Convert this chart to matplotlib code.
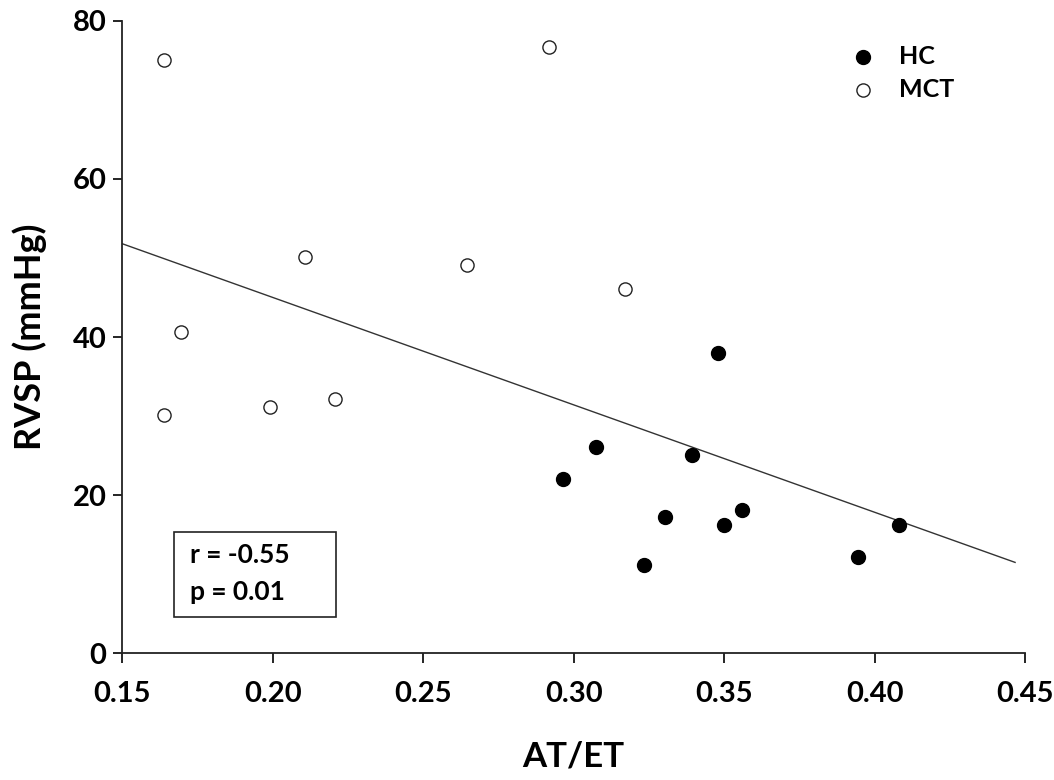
import matplotlib.pyplot as plt
from matplotlib.patches import Rectangle

plt.rcParams['font.family'] = ['Lato', 'DejaVu Sans']
plt.rcParams['font.weight'] = 'bold'

# Data
hc_x = [0.2965, 0.3075, 0.3393, 0.3235, 0.3305, 0.3500, 0.3560, 0.3481, 0.3946, 0.4080]
hc_y = [22.1, 26.1, 25.1, 11.2, 17.2, 16.2, 18.1, 38.0, 12.2, 16.2]
mct_x = [0.1640, 0.1696, 0.2107, 0.2645, 0.2919, 0.3171, 0.1640, 0.1990, 0.2208]
mct_y = [75.0, 40.6, 50.1, 49.1, 76.7, 46.1, 30.1, 31.1, 32.2]
fit_x = [0.15, 0.4467]
fit_y = [51.8, 11.5]
x_ticks = [0.15, 0.20, 0.25, 0.30, 0.35, 0.40, 0.45]
y_ticks = [0, 20, 40, 60, 80]

fig = plt.figure(figsize=(10.54, 7.8), dpi=100)
ax = fig.add_axes([0.1160, 0.1624, 0.8565, 0.8110])

ax.plot(fit_x, fit_y, color='#333333', lw=1.0, zorder=2)
ax.scatter(hc_x, hc_y, s=100, color='black', edgecolors='black', label='HC', zorder=3)
ax.scatter(mct_x, mct_y, s=90, facecolors='white', edgecolors='#222222',
           linewidths=1.0, label='MCT', zorder=3)

ax.set_xlim(0.15, 0.45)
ax.set_ylim(0, 80)
ax.set_xticks(x_ticks)
ax.set_xticklabels([f'{t:.2f}' for t in x_ticks])
ax.set_yticks(y_ticks)

for s in ['top', 'right']:
    ax.spines[s].set_visible(False)
for s in ['left', 'bottom']:
    ax.spines[s].set_linewidth(1.3)
    ax.spines[s].set_color('#222222')
ax.tick_params(axis='x', length=7, width=1.2, pad=13, labelsize=21)
ax.tick_params(axis='y', length=6.5, width=1.2, pad=5, labelsize=21)
for lbl in ax.get_xticklabels() + ax.get_yticklabels():
    lbl.set_fontweight('bold')

ax.set_xlabel('AT/ET', fontsize=25, fontweight='bold', labelpad=24)
ax.set_ylabel('RVSP (mmHg)', fontsize=26, fontweight='bold', labelpad=18)

# stats box
ax.add_patch(Rectangle((0.0576, 0.0569), 0.1788, 0.1353, transform=ax.transAxes,
                       fill=False, edgecolor='#222222', lw=1.2, zorder=4))
ax.text(0.075, 0.1423, 'r = -0.55', transform=ax.transAxes, fontsize=19,
        fontweight='bold', va='baseline', ha='left')
ax.text(0.075, 0.0843, 'p = 0.01', transform=ax.transAxes, fontsize=19,
        fontweight='bold', va='baseline', ha='left')

leg = ax.legend(loc='upper left', bbox_to_anchor=(0.782, 0.978), frameon=False,
                fontsize=18, handletextpad=0.45, labelspacing=0.4,
                borderaxespad=0)
for t in leg.get_texts():
    t.set_fontweight('bold')

plt.savefig('out.png', dpi=100)
